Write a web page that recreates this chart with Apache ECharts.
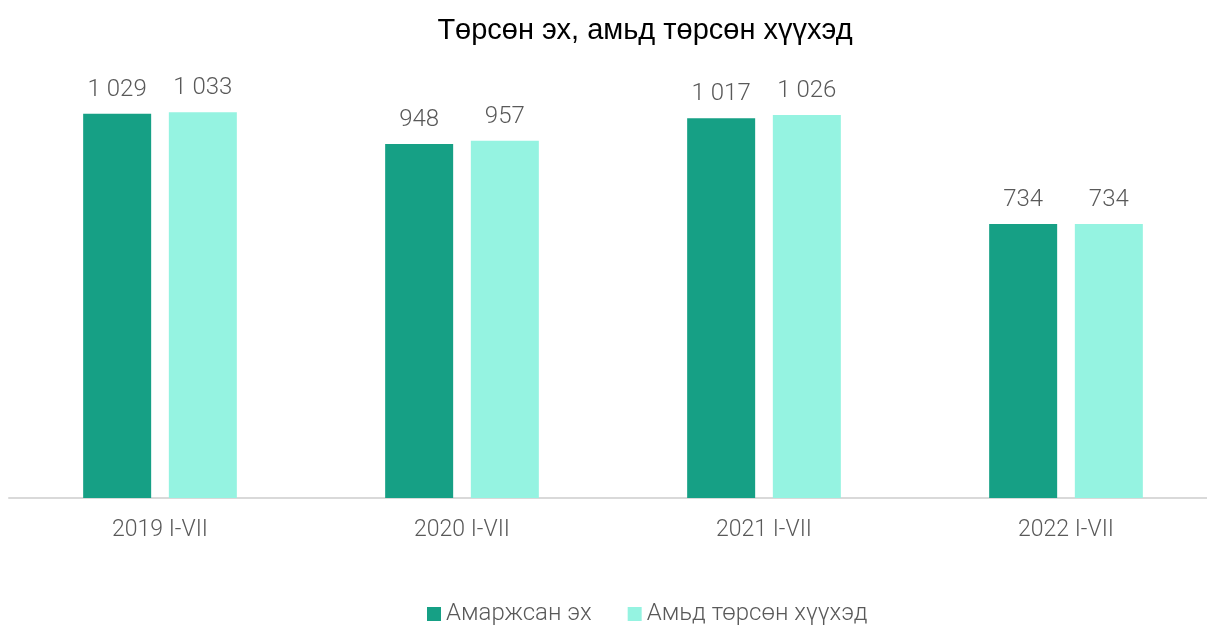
<!DOCTYPE html>
<html>
<head>
<meta charset="utf-8">
<script src="https://cdn.jsdelivr.net/npm/echarts@6/dist/echarts.min.js"></script>
<style>
  html, body { margin: 0; padding: 0; background: #fff; }
  #chart { width: 1207px; height: 625px; }
</style>
</head>
<body>
<div id="chart"></div>
<script>
// 数据
var categories = ['2019 I-VII', '2020 I-VII', '2021 I-VII', '2022 I-VII'];
var mothers = [1029, 948, 1017, 734];
var liveBirths = [1033, 957, 1026, 734];
var seriesNames = ['Амаржсан эх', 'Амьд төрсөн хүүхэд'];

var chart = echarts.init(document.getElementById('chart'));

// 千位用空格分隔
function fmt(v) {
    return String(v).replace(/\B(?=(\d{3})+(?!\d))/g, ' ');
}

var labelStyle = {
    show: true,
    position: 'top',
    distance: 12,
    color: '#595959',
    fontFamily: 'Roboto',
    fontWeight: 300,
    fontSize: 24,
    formatter: function (p) { return fmt(p.value); }
};

var option = {
    animation: false,
    title: {
        text: 'Төрсөн эх, амьд төрсөн хүүхэд',
        left: 640,
        textAlign: 'center',
        top: 11,
        textStyle: {
            fontFamily: 'Liberation Sans',
            fontWeight: 'normal',
            fontSize: 29,
            color: '#000'
        }
    },
    legend: {
        top: 597,
        left: 422,
        itemWidth: 14,
        itemHeight: 14,
        itemGap: 36,
        icon: 'rect',
        textStyle: {
            fontFamily: 'Roboto',
            fontWeight: 300,
            fontSize: 24,
            color: '#595959'
        },
        data: seriesNames
    },
    grid: {
        left: 9,
        right: -10,
        top: 50,
        bottom: 127,
        outerBoundsMode: 'none',
        containLabel: false
    },
    xAxis: {
        type: 'category',
        data: categories,
        axisTick: { show: false },
        axisLine: { lineStyle: { color: '#d9d9d9', width: 2 } },
        axisLabel: {
            margin: 21,
            color: '#595959',
            fontFamily: 'Roboto',
            fontWeight: 300,
            fontSize: 23
        }
    },
    yAxis: {
        type: 'value',
        min: 0,
        max: 1200,
        show: false,
        splitLine: { show: false }
    },
    series: [{
        name: seriesNames[0],
        type: 'bar',
        data: mothers,
        barWidth: 68,
        barGap: '26%',
        itemStyle: { color: '#16a085' },
        label: labelStyle
    }, {
        name: seriesNames[1],
        type: 'bar',
        data: liveBirths,
        barWidth: 68,
        itemStyle: { color: '#95f3e1' },
        label: labelStyle
    }]
};

chart.setOption(option);
</script>
</body>
</html>
